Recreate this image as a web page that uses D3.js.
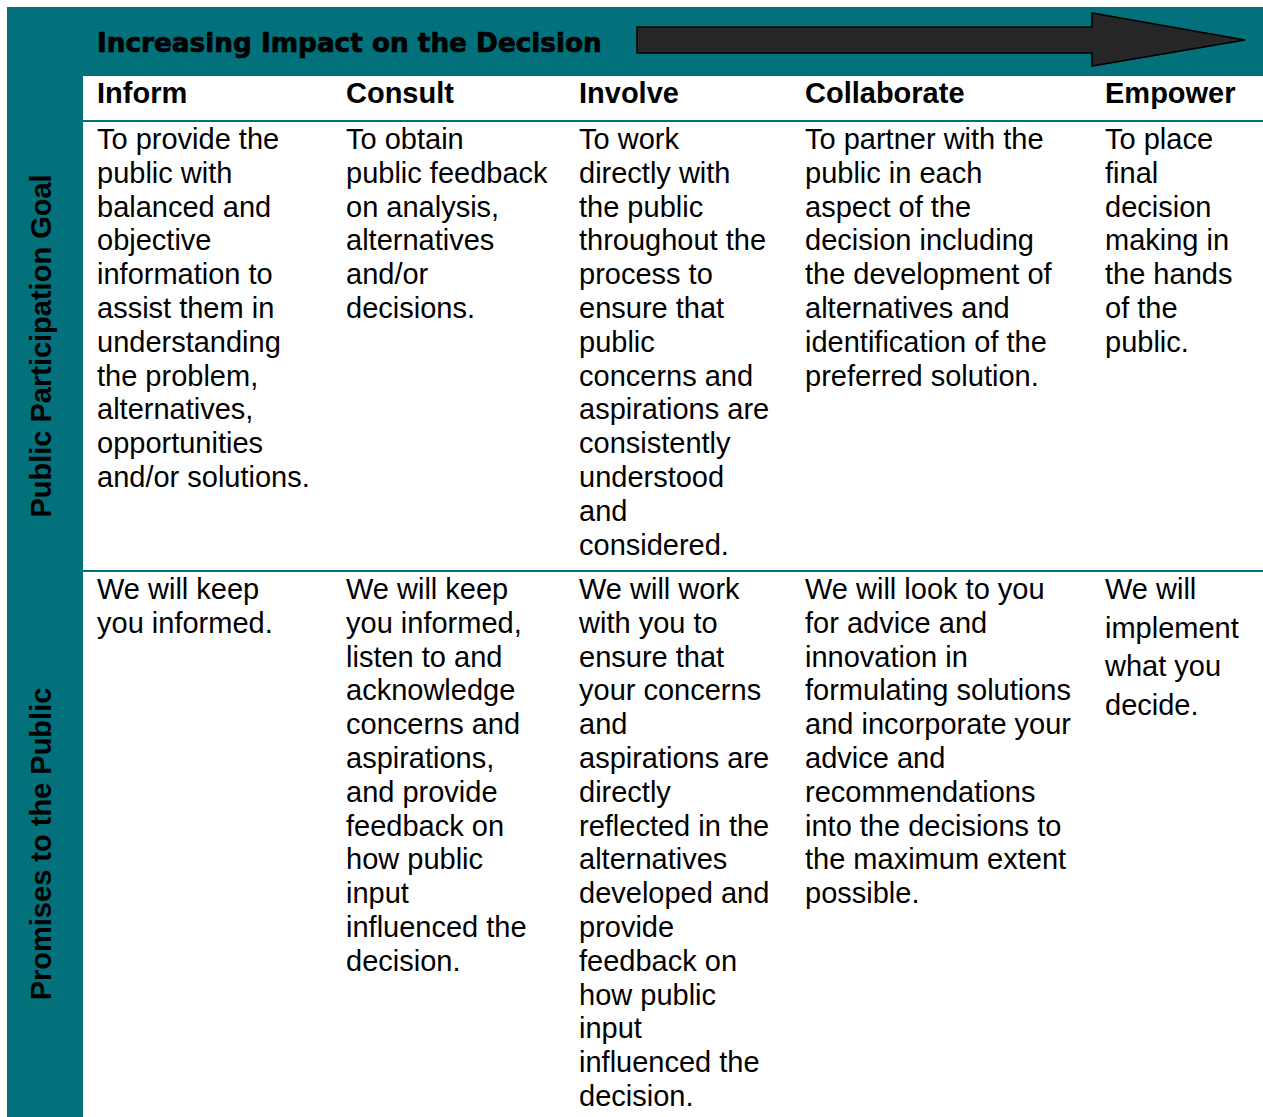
<!DOCTYPE html>
<html>
<head>
<meta charset="utf-8">
<script src="https://cdn.jsdelivr.net/npm/d3@7"></script>
<style>
  html, body { margin: 0; padding: 0; background: #ffffff; }
  svg { display: block; }
</style>
</head>
<body>
<div id="chart"></div>
<script>
// ---------- DATA ----------
const title = "Increasing Impact on the Decision";
const categories = ["Inform", "Consult", "Involve", "Collaborate", "Empower"];
const rowLabels = ["Public Participation Goal", "Promises to the Public"];

const goalLines = [
  ["To provide the", "public with", "balanced and", "objective", "information to", "assist them in", "understanding", "the problem,", "alternatives,", "opportunities", "and/or solutions."],
  ["To obtain", "public feedback", "on analysis,", "alternatives", "and/or", "decisions."],
  ["To work", "directly with", "the public", "throughout the", "process to", "ensure that", "public", "concerns and", "aspirations are", "consistently", "understood", "and", "considered."],
  ["To partner with the", "public in each", "aspect of the", "decision including", "the development of", "alternatives and", "identification of the", "preferred solution."],
  ["To place", "final", "decision", "making in", "the hands", "of the", "public."]
];

const promiseLines = [
  ["We will keep", "you informed."],
  ["We will keep", "you informed,", "listen to and", "acknowledge", "concerns and", "aspirations,", "and provide", "feedback on", "how public", "input", "influenced the", "decision."],
  ["We will work", "with you to", "ensure that", "your concerns", "and", "aspirations are", "directly", "reflected in the", "alternatives", "developed and", "provide", "feedback on", "how public", "input", "influenced the", "decision."],
  ["We will look to you", "for advice and", "innovation in", "formulating solutions", "and incorporate your", "advice and", "recommendations", "into the decisions to", "the maximum extent", "possible."],
  ["We will", "implement", "what you", "decide."]
];

// ---------- LAYOUT ----------
const W = 1263, H = 1117;
const teal = "#02717b";
const colStarts = [97, 346, 579, 805, 1105];
const rowTops = [121, 571, 1117];
const firstBaselines = [149, 599];
const lineStep = 33.8;
const empowerPromiseStep = 38.7;
const bodyFont = "'Liberation Sans', Arial, sans-serif";

const svg = d3.select("#chart").append("svg")
  .attr("width", W).attr("height", H);

const xCol = d3.scaleOrdinal().domain(categories).range(colStarts);

// teal frame: top banner and left band
svg.append("rect").attr("x", 7).attr("y", 7).attr("width", W - 7).attr("height", 69).attr("fill", teal);
svg.append("rect").attr("x", 7).attr("y", 7).attr("width", 76).attr("height", H - 7).attr("fill", teal);

// title
const titleText = svg.append("text")
  .attr("x", 97).attr("y", 52)
  .attr("font-family", "'DejaVu Sans', Verdana, sans-serif")
  .attr("font-weight", "bold")
  .attr("font-size", 27)
  .attr("fill", "#000")
  .attr("stroke", "#000")
  .attr("stroke-width", 0.7)
  .text(title);
const tw = titleText.node().getComputedTextLength();
titleText.attr("font-size", 27 * 505 / tw);

// arrow
const arrowPts = [[637, 27], [1092, 27], [1092, 13], [1245, 40], [1092, 66], [1092, 53], [637, 53]];
svg.append("path")
  .attr("d", d3.line()(arrowPts) + "Z")
  .attr("fill", "#262626")
  .attr("stroke", "#000")
  .attr("stroke-width", 1.5);

// header labels
svg.selectAll("text.hdr").data(categories).enter().append("text")
  .attr("class", "hdr")
  .attr("x", d => xCol(d))
  .attr("y", 103)
  .attr("font-family", bodyFont)
  .attr("font-weight", "bold")
  .attr("font-size", 29)
  .attr("fill", "#000")
  .text(d => d);

// divider lines
svg.selectAll("line.div").data(rowTops.slice(0, 2)).enter().append("line")
  .attr("class", "div")
  .attr("x1", 83).attr("x2", W)
  .attr("y1", d => d).attr("y2", d => d)
  .attr("stroke", teal).attr("stroke-width", 2.2);

// rotated row labels
rowLabels.forEach((lab, i) => {
  const cy = (rowTops[i] + rowTops[i + 1]) / 2;
  svg.append("text")
    .attr("transform", `translate(51,${cy}) rotate(-90)`)
    .attr("text-anchor", "middle")
    .attr("font-family", bodyFont)
    .attr("font-weight", "bold")
    .attr("font-size", 29)
    .attr("fill", "#000")
    .text(lab);
});

// cell texts
function drawRow(linesArr, rowIdx) {
  linesArr.forEach((lines, ci) => {
    const cat = categories[ci];
    const step = (rowIdx === 1 && cat === "Empower") ? empowerPromiseStep : lineStep;
    const y = d3.scaleLinear().domain([0, 1]).range([firstBaselines[rowIdx], firstBaselines[rowIdx] + step]);
    const t = svg.append("text")
      .attr("font-family", bodyFont)
      .attr("font-size", 29)
      .attr("fill", "#000");
    t.selectAll("tspan").data(lines).enter().append("tspan")
      .attr("x", xCol(cat))
      .attr("y", (d, i) => y(i))
      .text(d => d);
  });
}
drawRow(goalLines, 0);
drawRow(promiseLines, 1);
</script>
</body>
</html>
